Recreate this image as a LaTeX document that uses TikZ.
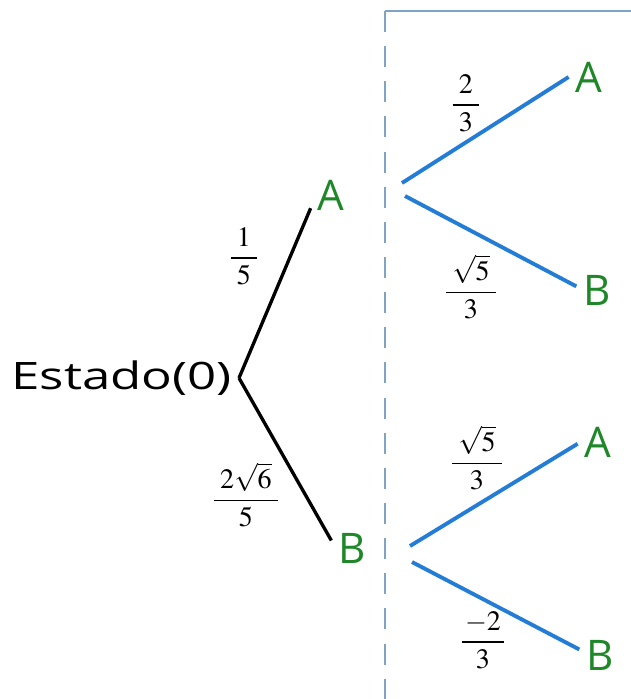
\documentclass[tikz,border=0pt]{standalone}
\usepackage{mathptmx}
\usepackage{fontspec}
\setsansfont{Open Sans}
\definecolor{leafgreen}{RGB}{30,135,40}
\definecolor{branchblue}{RGB}{35,125,215}
\definecolor{boxblue}{RGB}{125,165,195}
\begin{document}
\begin{tikzpicture}[x=0.02cm,y=-0.02cm,
    leaf/.style={text=leafgreen,font=\sffamily\fontsize{24}{28}\selectfont,inner sep=0pt,outer sep=4pt},
    prob/.style={font=\fontsize{16}{19}\selectfont,inner sep=0pt},
    branch/.style={branchblue,line width=2.2pt}]
    \useasboundingbox (0,0) rectangle (631,699);
    % frame of the second stage
    \draw[boxblue,line width=1.2pt](385,11)--(631,11);
    \draw[boxblue,line width=1.2pt,dash pattern=on 12pt off 8pt](385,11)--(385,699);
    % first stage
    \node[font=\sffamily\fontsize{21.5}{26}\selectfont,anchor=east,inner sep=0pt,outer sep=4pt](s0) at(239,378){\scalebox{1.35}[1]{Estado(0)}};
    \node[leaf](a1) at(331,195){A};
    \node[leaf](b1) at(352,548){B};
    \draw[line width=1.9pt](s0.east)--(a1.213);
    \draw[line width=1.9pt](s0.east)--(b1.160);
    \node[prob](pa1) at(244,256){$\displaystyle\frac{\;1\;}{5}$};
    \node[prob](pb1) at(246,495){$\displaystyle\frac{\;2\sqrt{6}\;}{5}$};
    % second stage, from A
    \coordinate(ua) at(402,183);
    \coordinate(ub) at(405,196);
    \node[leaf](a2) at(589,77){A};
    \node[leaf](b2) at(597,290){B};
    \draw[branch](ua)--(a2.180);
    \draw[branch](ub)--(b2.170);
    \node[prob](paa) at(466,103){$\displaystyle\frac{\;2\;}{3}$};
    \node[prob](pab) at(471,287){$\displaystyle\frac{\;\sqrt{5}\;}{3}$};
    % second stage, from B
    \coordinate(la) at(410,546);
    \coordinate(lb) at(412,562);
    \node[leaf](a3) at(598,442){A};
    \node[leaf](b3) at(600,655){B};
    \draw[branch](la)--(a3.185);
    \draw[branch](lb)--(b3.165);
    \node[prob](pba) at(477,458){$\displaystyle\frac{\;\sqrt{5}\;}{3}$};
    \node[prob](pbb) at(483,640){$\displaystyle\frac{\,-2\,}{3}$};
\end{tikzpicture}
\end{document}
